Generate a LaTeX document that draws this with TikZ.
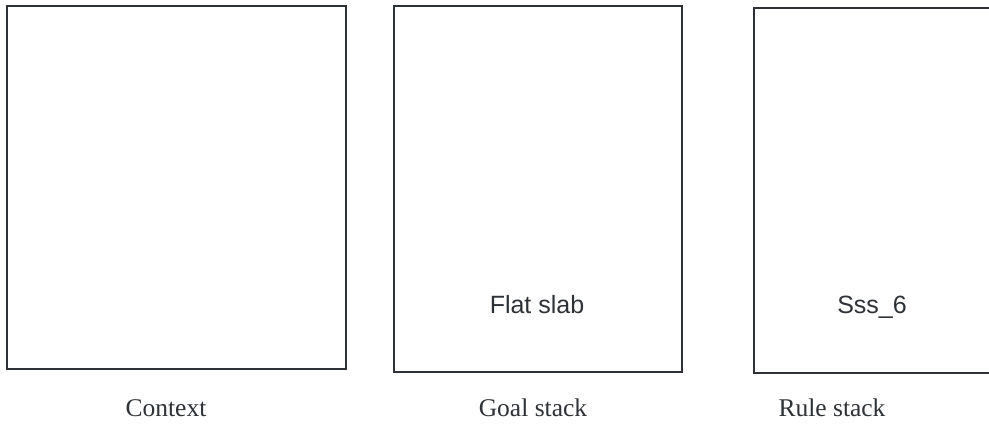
\documentclass[tikz,border=0pt]{standalone}
\usepackage{fontspec}
\setmainfont{Liberation Serif}
\newfontfamily\arialfont{Liberation Sans}
\definecolor{ink}{HTML}{2E3236}
\tikzset{
  panel/.style={draw=ink, line width=1.8pt, rectangle, inner sep=0pt, anchor=north west},
  inlabel/.style={font=\arialfont\fontsize{25}{30}\selectfont, text=ink, anchor=base},
  caption/.style={font=\fontsize{25.5}{31}\selectfont, text=ink, anchor=base}
}
\begin{document}
\begin{tikzpicture}[x=1pt,y=1pt]
\useasboundingbox[fill=white] (0,0) rectangle (989,429);
\node[panel, minimum width=339pt, minimum height=363pt] (ctx) at (6,424) {};
\node[panel, minimum width=288pt, minimum height=366pt] (goal) at (393,424) {};
\node[panel, minimum width=238pt, minimum height=365pt] (rule) at (753,422) {};
\node[inlabel] (flat) at (537,115) {Flat slab};
\node[inlabel] (sss) at (872,115) {Sss\_6};
\node[caption] (lctx) at (166,13) {Context};
\node[caption] (lgoal) at (533,13) {Goal stack};
\node[caption] (lrule) at (832,13) {Rule stack};
\end{tikzpicture}
\end{document}
